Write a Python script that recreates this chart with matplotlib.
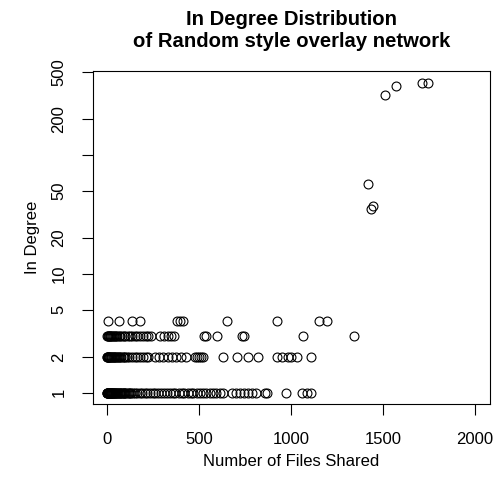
import matplotlib
matplotlib.use("Agg")
import matplotlib.pyplot as plt
import numpy as np

plt.rcParams['font.family'] = ['Liberation Sans', 'DejaVu Sans']

# files shared, grouped by in-degree
deg1_files = [0, 1, 2, 3, 4, 5, 6, 7, 8, 9, 10, 11, 12, 13, 14, 15, 16, 18, 20, 22,
              24, 26, 28, 30, 33, 36, 39, 42, 45, 48, 52, 56, 60, 64, 68, 72, 76, 80,
              85, 90, 95, 100, 106, 112, 118, 125, 132, 140, 152, 165, 178, 190, 205,
              218, 232, 248, 262, 278, 292, 310, 325, 340, 358, 372, 390, 405, 420,
              440, 455, 470, 488, 505, 520, 540, 560, 575, 595, 615, 632, 680, 700,
              722, 745, 765, 790, 812, 858, 872, 975, 1058, 1085, 1110]
deg2_files = [0, 2, 4, 6, 8, 10, 13, 16, 20, 24, 28, 32, 36, 40, 45, 50, 55, 60, 66,
              72, 78, 85, 92, 100, 110, 120, 135, 150, 165, 180, 195, 210, 222, 262,
              285, 305, 330, 355, 375, 400, 430, 478, 490, 500, 510, 522, 632, 705,
              766, 821, 922, 950, 982, 1000, 1035, 1107]
deg3_files = [0, 3, 6, 10, 14, 18, 22, 27, 32, 38, 44, 50, 57, 64, 72, 80, 90, 100,
              112, 125, 138, 150, 165, 180, 195, 210, 225, 240, 290, 310, 330, 350,
              365, 525, 540, 600, 735, 745, 1063, 1342]
deg4_files = [5, 65, 134, 179, 383, 395, 415, 650, 922, 1154, 1194]

# the few super-peers
hub_files = [1420, 1435, 1448, 1510, 1572, 1710, 1742]
hub_degree = [57, 35, 37, 320, 380, 400, 400]

x = deg1_files + deg2_files + deg3_files + deg4_files + hub_files
y = ([1] * len(deg1_files) + [2] * len(deg2_files) + [3] * len(deg3_files)
     + [4] * len(deg4_files) + hub_degree)

fig = plt.figure(figsize=(4.95, 4.91), dpi=100)
ax = fig.add_axes([93 / 495, 1 - 404 / 491, 397 / 495, 333 / 491])

ax.plot(x, y, linestyle='none', marker='o', markersize=6.4,
        markerfacecolor='none', markeredgecolor='black', markeredgewidth=0.8)

ax.set_yscale('log')
ax.set_xlim(-76, 2081)
ax.set_ylim(10 ** -0.095, 10 ** 2.707)

yticks = [1, 2, 5, 10, 20, 50, 100, 200, 500]
ylabels = ['1', '2', '5', '10', '20', '50', '', '200', '500']
ax.set_yticks(yticks)
ax.set_yticklabels(ylabels, rotation=90, va='center')
ax.yaxis.set_minor_locator(matplotlib.ticker.NullLocator())
ax.set_xticks([0, 500, 1000, 1500, 2000])

ax.tick_params(length=8, width=0.8, labelsize=12)
ax.tick_params(axis='x', pad=12)
ax.tick_params(axis='y', pad=11)
for s in ax.spines.values():
    s.set_linewidth(0.8)

ax.set_xlabel('Number of Files Shared', fontsize=12, labelpad=5)
ax.set_ylabel('In Degree', fontsize=12, labelpad=8)
ax.set_title('In Degree Distribution\nof Random style overlay network',
             fontsize=14.6, fontweight='bold', pad=17.5, linespacing=1.2)

fig.savefig('out.png', dpi=100)
